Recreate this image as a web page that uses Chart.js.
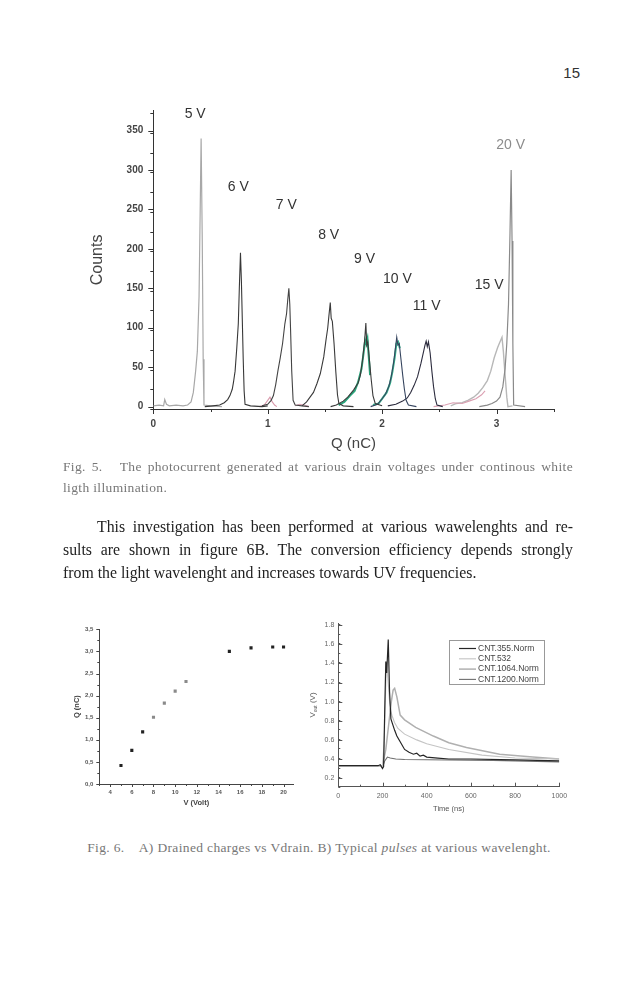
<!DOCTYPE html>
<html>
<head>
<meta charset="utf-8">
<script src="https://cdn.jsdelivr.net/npm/chart.js@4.4.1/dist/chart.umd.min.js"></script>
<style>
  body { margin: 0; background: #fff; width: 635px; height: 1000px; position: relative; overflow: hidden; }
  .abs { position: absolute; }
  #pageno { right: 55px; top: 64px; font: 15px "Liberation Sans", Arial, sans-serif; color: #333; }
  .cap { font-family: "Liberation Serif", "Times New Roman", serif; font-size: 13.5px; letter-spacing: 0.35px; line-height: 21px; color: #777; }
  .j { text-align: justify; text-align-last: justify; white-space: nowrap; }
  #cap5 { left: 63px; top: 456px; width: 510px; }
  #para { left: 63px; top: 515px; width: 510px; font-family: "Liberation Serif", serif; font-size: 15.8px; line-height: 23px; color: #222; }
  #para .j { white-space: normal; }
  #cap6 { left: 60px; width: 518px; top: 837px; text-align: center; }
</style>
</head>
<body>
<div class="abs" id="pageno">15</div>

<div class="abs" style="left:60px;top:90px"><canvas id="hist" width="510" height="370"></canvas></div>

<div class="abs cap" id="cap5">
  <div class="j">Fig. 5.&nbsp;&nbsp; The photocurrent generated at various drain voltages under continous white</div>
  <div>ligth illumination.</div>
</div>

<div class="abs" id="para">
  <div class="j" style="padding-left:34px">This investigation has been performed at various wawelenghts and re-</div>
  <div class="j">sults are shown in figure 6B. The conversion efficiency depends strongly</div>
  <div>from the light wavelenght and increases towards UV frequencies.</div>
</div>

<div class="abs" style="left:70px;top:615px"><canvas id="drain" width="235" height="200"></canvas></div>
<div class="abs" style="left:305px;top:615px"><canvas id="pulse" width="270" height="200"></canvas></div>

<div class="abs cap" id="cap6">Fig. 6.&nbsp;&nbsp;&nbsp; A) Drained charges vs Vdrain. B) Typical <i>pulses</i> at various wavelenght.</div>

<script>
// --- Fig. 5: charge histograms, [Q (nC), counts] ---
const v5 = [[0,1],[0.05,2],[0.09,1],[0.1,9],[0.115,3],[0.14,1],[0.2,2],[0.26,1],[0.3,2],[0.33,6],[0.35,18],[0.37,45],[0.385,70],[0.4,140],[0.41,250],[0.418,340],[0.428,210],[0.436,60],[0.443,2],[0.5,1],[0.6,0]];
const v6 = [[0.45,0],[0.52,1],[0.58,2],[0.62,5],[0.65,9],[0.67,14],[0.69,22],[0.7,30],[0.715,45],[0.73,75],[0.743,105],[0.752,150],[0.762,195],[0.77,160],[0.778,110],[0.786,60],[0.794,20],[0.802,3],[0.85,1],[0.95,0],[1.0,1]];
const v7 = [[0.95,1],[1.0,3],[1.03,8],[1.05,14],[1.07,28],[1.09,46],[1.11,62],[1.13,80],[1.15,105],[1.165,118],[1.175,135],[1.185,150],[1.193,130],[1.2,97],[1.21,45],[1.222,8],[1.24,2],[1.3,1],[1.36,0]];
const v8 = [[1.3,1],[1.34,6],[1.37,12],[1.4,18],[1.43,29],[1.46,42],[1.49,63],[1.51,85],[1.525,100],[1.535,115],[1.547,132],[1.555,112],[1.565,108],[1.58,80],[1.595,45],[1.61,15],[1.622,4],[1.66,1],[1.75,0]];
const v9 = [[1.55,0],[1.6,2],[1.66,7],[1.7,12],[1.75,21],[1.79,30],[1.81,40],[1.83,60],[1.848,85],[1.858,106],[1.866,78],[1.875,82],[1.89,58],[1.905,34],[1.92,14],[1.94,4],[2.0,1]];
const g9 = [[1.62,2],[1.67,6],[1.72,14],[1.76,20],[1.79,31],[1.82,48],[1.84,70],[1.852,84],[1.862,80],[1.872,86],[1.882,66],[1.895,40]];
const v10 = [[1.9,0],[1.96,3],[2.0,10],[2.03,16],[2.06,26],[2.08,38],[2.1,55],[2.115,72],[2.128,88],[2.138,78],[2.15,80],[2.165,60],[2.18,40],[2.195,22],[2.21,8],[2.23,2],[2.3,0]];
const g10 = [[1.92,2],[1.97,4],[2.01,12],[2.04,18],[2.07,30],[2.09,44],[2.11,62],[2.125,80],[2.14,82],[2.155,74]];
const v11 = [[2.05,1],[2.12,3],[2.18,7],[2.22,11],[2.25,18],[2.28,27],[2.31,38],[2.34,55],[2.36,68],[2.375,78],[2.385,83],[2.395,76],[2.405,82],[2.42,68],[2.435,45],[2.45,25],[2.465,10],[2.48,2],[2.53,0]];
const v15 = [[2.6,1],[2.65,4],[2.7,5],[2.75,8],[2.8,12],[2.84,17],[2.88,24],[2.92,33],[2.95,45],[2.98,62],[3.01,75],[3.03,82],[3.048,88],[3.06,70],[3.075,40],[3.09,12],[3.1,0],[3.14,1]];
const v20 = [[2.85,0],[2.92,2],[2.96,4],[3.0,7],[3.03,12],[3.055,25],[3.075,48],[3.09,80],[3.105,130],[3.118,220],[3.128,300],[3.136,210],[3.143,80],[3.15,2],[3.25,0]];
const pinkLow = [[0.93,0],[0.97,2],[1.0,8],[1.02,12],[1.04,6],[1.06,2],[1.08,0]];
const pinkMid = [[1.24,1],[1.28,3],[1.32,2],[1.36,0]];
const pinkHigh = [[2.45,0],[2.55,2],[2.62,5],[2.7,4],[2.76,7],[2.82,10],[2.87,15],[2.9,20]];
const peakNames = ['5 V','6 V','7 V','8 V','9 V','10 V','11 V','15 V','20 V'];
const countTicks = [0,50,100,150,200,250,300,350];
const qTicks = [0,1,2,3];

// --- Fig. 6A: drained charge vs drain voltage ---
const vDrain = [5,6,7,8,9,10,11,15,17,19,20];
const qDrained = [0.42,0.76,1.18,1.51,1.83,2.10,2.32,3.00,3.08,3.10,3.10];
const drainXTicks = [4,6,8,10,12,14,16,18,20];
const drainYTicks = [0,0.5,1,1.5,2,2.5,3,3.5];

// --- Fig. 6B: pulses, [time (ns), Vout (V)] ---
const p355 = [[0,0.33],[100,0.33],[180,0.33],[190,0.34],[200,0.30],[205,0.32],[210,0.9],[215,1.42],[219,1.3],[226,1.65],[232,1.1],[238,0.82],[245,0.77],[255,0.7],[265,0.64],[280,0.58],[300,0.5],[320,0.47],[340,0.45],[355,0.46],[370,0.43],[385,0.44],[400,0.42],[450,0.41],[500,0.40],[600,0.40],[800,0.39],[1000,0.38]];
const p532 = [[0,0.33],[190,0.33],[200,0.32],[208,0.6],[214,1.1],[218,1.42],[224,1.25],[232,1.0],[242,0.86],[255,0.78],[270,0.72],[300,0.66],[355,0.6],[400,0.56],[500,0.5],[650,0.44],[800,0.41],[1000,0.40]];
const p1064 = [[0,0.33],[200,0.33],[215,0.5],[230,0.8],[240,1.0],[248,1.12],[255,1.14],[265,1.05],[280,0.86],[300,0.81],[350,0.73],[430,0.64],[500,0.57],[580,0.52],[730,0.45],[880,0.42],[1000,0.40]];
const p1200 = [[0,0.33],[190,0.33],[200,0.31],[210,0.38],[222,0.42],[235,0.41],[260,0.40],[300,0.395],[500,0.39],[700,0.385],[1000,0.37]];
const pulseNames = ['CNT.355.Norm','CNT.532','CNT.1064.Norm','CNT.1200.Norm'];
const timeTicks = [0,200,400,600,800,1000];
const voutTicks = [0.2,0.4,0.6,0.8,1.0,1.2,1.4,1.6,1.8];

const pts = arr => arr.map(([x, y]) => ({ x, y }));
const fixTicks = list => scale => { scale.ticks = list.map(v => ({ value: v })); };
const fixSize = (w, h) => scale => { if (w != null) scale.width = w; if (h != null) scale.height = h; };
const noGrid = { display: false, drawTicks: false };

// major + minor tick marks drawn on the axis lines
const tickMarks = {
  id: 'tickMarks',
  afterDraw(chart, args, o) {
    const { ctx, chartArea: a, scales: { x, y } } = chart;
    const s = o.dir === 'in' ? -1 : 1;
    ctx.save();
    ctx.strokeStyle = o.color;
    ctx.lineWidth = 1;
    ctx.beginPath();
    const markX = (v, len) => { const p = Math.round(x.getPixelForValue(v)) + 0.5; ctx.moveTo(p, a.bottom); ctx.lineTo(p, a.bottom + s * len); };
    const markY = (v, len) => { const p = Math.round(y.getPixelForValue(v)) + 0.5; ctx.moveTo(a.left, p); ctx.lineTo(a.left - s * len, p); };
    x.ticks.forEach(t => markX(t.value, o.major));
    y.ticks.forEach(t => markY(t.value, o.major));
    for (let v = x.min; v <= x.max + 1e-9; v += o.xStep) markX(v, o.minor);
    for (let v = y.min; v <= y.max + 1e-9; v += o.yStep) markY(v, o.minor);
    ctx.stroke();
    ctx.restore();
  }
};

// voltage labels above each histogram peak
const peakLabels = {
  id: 'peakLabels',
  afterDatasetsDraw(chart, args, o) {
    const { ctx, scales: { x, y } } = chart;
    ctx.save();
    ctx.font = o.font;
    ctx.textAlign = 'center';
    ctx.textBaseline = 'middle';
    o.names.forEach((n, i) => {
      ctx.fillStyle = o.colors[i] || o.color;
      ctx.fillText(n, x.getPixelForValue(o.at[i][0]), y.getPixelForValue(o.at[i][1]));
    });
    ctx.restore();
  }
};

// boxed legend inside the pulse plot + Vout axis title with subscript
const pulseLegend = {
  id: 'pulseLegend',
  afterDraw(chart, args, o) {
    const { ctx, chartArea: a } = chart;
    const bx = a.left + o.dx, by = a.top + o.dy;
    ctx.save();
    ctx.strokeStyle = '#999';
    ctx.lineWidth = 1;
    ctx.strokeRect(bx + 0.5, by + 0.5, o.w, o.h);
    ctx.font = o.font;
    ctx.textBaseline = 'middle';
    chart.data.datasets.forEach((ds, i) => {
      const ly = by + o.first + i * o.gap;
      ctx.strokeStyle = ds.borderColor;
      ctx.lineWidth = ds.borderWidth;
      ctx.beginPath(); ctx.moveTo(bx + 10, ly); ctx.lineTo(bx + 27, ly); ctx.stroke();
      ctx.fillStyle = '#444';
      ctx.fillText(ds.label, bx + 29, ly);
    });
    // y title: V_out (V)
    const big = '8px "Liberation Sans", Arial, sans-serif', small = '5px "Liberation Sans", Arial, sans-serif';
    ctx.translate(o.titleX, (a.top + a.bottom) / 2);
    ctx.rotate(-Math.PI / 2);
    ctx.fillStyle = '#555';
    ctx.textBaseline = 'alphabetic';
    ctx.font = big; const w1 = ctx.measureText('V').width, w3 = ctx.measureText(' (V)').width;
    ctx.font = small; const w2 = ctx.measureText('out').width;
    let sx = -(w1 + w2 + w3) / 2;
    ctx.font = big; ctx.fillText('V', sx, 3); sx += w1;
    ctx.font = small; ctx.fillText('out', sx, 5); sx += w2;
    ctx.font = big; ctx.fillText(' (V)', sx, 3);
    ctx.restore();
  }
};

const line = (label, data, color, width) => ({
  label, data: pts(data), borderColor: color, borderWidth: width || 1.1,
  pointRadius: 0, tension: 0, fill: false
});

const sans = 'Liberation Sans';

new Chart(document.getElementById('hist'), {
  type: 'line',
  data: {
    datasets: [
      line('6 V', v6, '#383838'),
      line('7 V', v7, '#444'),
      line('8 V', v8, '#3a3a3a'),
      line('9 V', v9, '#3a3a3a'),
      line('9 V g', g9, '#2aa57c', 2),
      line('10 V', v10, '#36455f'),
      line('10 V g', g10, '#35b28c', 2),
      line('11 V', v11, '#2c2c3e'),
      line('20 V', v20, '#8a8a8a', 1.2),
      line('pink a', pinkLow, '#d99aac'),
      line('pink b', pinkMid, '#d9a3b4'),
      line('pink c', pinkHigh, '#dba0b2'),
      line('15 V', v15, '#b8b8b8', 1.4),
      line('5 V', v5, '#a8a8a8', 1.2)
    ]
  },
  options: {
    responsive: false,
    animation: false,
    layout: { padding: { left: 0, top: 20.8, right: 16.3, bottom: 0 } },
    plugins: {
      legend: { display: false },
      tooltip: { enabled: false },
      tickMarks: { dir: 'out', major: 5, minor: 3, xStep: 0.5, yStep: 25, color: '#333' },
      peakLabels: {
        names: peakNames,
        at: [[0.366, 371], [0.743, 278], [1.163, 256], [1.533, 217], [1.847, 187], [2.133, 162], [2.39, 127], [2.935, 154], [3.124, 332]],
        font: `14px "${sans}", Arial, sans-serif`, color: '#333',
        colors: [, , , , , , , , '#8c8c8c']
      }
    },
    scales: {
      x: {
        type: 'linear', min: 0, max: 3.5,
        afterBuildTicks: fixTicks(qTicks), afterFit: fixSize(null, 51),
        grid: noGrid,
        border: { display: true, color: '#333', width: 1 },
        ticks: { padding: 9, color: '#444', font: { family: sans, size: 10, weight: 'bold' } },
        title: { display: true, text: 'Q (nC)', color: '#444', font: { family: sans, size: 15 }, padding: { top: 0, bottom: 7 } }
      },
      y: {
        type: 'linear', min: -3, max: 375,
        afterBuildTicks: fixTicks(countTicks), afterFit: fixSize(93.3, null),
        grid: noGrid,
        border: { display: true, color: '#333', width: 1 },
        ticks: { padding: 10, color: '#444', font: { family: sans, size: 10, weight: 'bold' } },
        title: { display: true, text: 'Counts', color: '#444', font: { family: sans, size: 16 }, padding: { top: 28, bottom: 0 } }
      }
    }
  },
  plugins: [tickMarks, peakLabels]
});

new Chart(document.getElementById('drain'), {
  type: 'scatter',
  data: {
    datasets: [{
      data: vDrain.map((v, i) => ({ x: v, y: qDrained[i] })),
      pointStyle: 'rect', pointRadius: 2.2, borderWidth: 0,
      backgroundColor: c => (c.raw && c.raw.x >= 8 && c.raw.x <= 11) ? '#8a8a8a' : '#222'
    }]
  },
  options: {
    responsive: false,
    animation: false,
    layout: { padding: { left: 0, top: 14.3, right: 11.7, bottom: 0 } },
    plugins: {
      legend: { display: false },
      tooltip: { enabled: false },
      tickMarks: { dir: 'out', major: 3, minor: 2, xStep: 1, yStep: 0.25, color: '#444' }
    },
    scales: {
      x: {
        type: 'linear', min: 3, max: 20.9,
        afterBuildTicks: fixTicks(drainXTicks), afterFit: fixSize(null, 31),
        grid: noGrid,
        border: { display: true, color: '#444', width: 1 },
        ticks: { padding: 5, color: '#555', font: { family: sans, size: 6, weight: 'bold' } },
        title: { display: true, text: 'V (Volt)', color: '#444', font: { family: sans, size: 7.5, weight: 'bold' }, padding: { top: 0, bottom: 8 } }
      },
      y: {
        type: 'linear', min: 0, max: 3.5,
        afterBuildTicks: fixTicks(drainYTicks), afterFit: fixSize(29.3, null),
        grid: noGrid,
        border: { display: true, color: '#444', width: 1 },
        ticks: { padding: 6, color: '#555', font: { family: sans, size: 6, weight: 'bold' },
          callback: v => v.toFixed(1).replace('.', ',') },
        title: { display: true, text: 'Q (nC)', color: '#444', font: { family: sans, size: 7.5, weight: 'bold' }, padding: { top: 2.5, bottom: 0 } }
      }
    }
  },
  plugins: [tickMarks]
});

new Chart(document.getElementById('pulse'), {
  type: 'line',
  data: {
    datasets: [
      line(pulseNames[0], p355, '#262626', 1.2),
      line(pulseNames[1], p532, '#c4c4c4', 1.1),
      line(pulseNames[2], p1064, '#b0b0b0', 1.5),
      line(pulseNames[3], p1200, '#6e6e6e', 1.1)
    ]
  },
  options: {
    responsive: false,
    animation: false,
    layout: { padding: { left: 0, top: 8.3, right: 15.7, bottom: 0 } },
    plugins: {
      legend: { display: false },
      tooltip: { enabled: false },
      tickMarks: { dir: 'in', major: 4, minor: 2, xStep: 100, yStep: 0.1, color: '#555' },
      pulseLegend: { dx: 110.7, dy: 16.7, w: 95, h: 44, first: 8.5, gap: 10.3, titleX: 7,
        font: `8.5px "${sans}", Arial, sans-serif` }
    },
    scales: {
      x: {
        type: 'linear', min: 0, max: 1000,
        afterBuildTicks: fixTicks(timeTicks), afterFit: fixSize(null, 28.3),
        grid: noGrid,
        border: { display: true, color: '#555', width: 1 },
        ticks: { padding: 5, color: '#666', font: { family: sans, size: 7 }, callback: v => String(v) },
        title: { display: true, text: 'Time (ns)', color: '#555', font: { family: sans, size: 7.5 }, padding: { top: 0, bottom: 2 } }
      },
      y: {
        type: 'linear', min: 0.11, max: 1.82,
        afterBuildTicks: fixTicks(voutTicks), afterFit: fixSize(33.3, null),
        grid: noGrid,
        border: { display: true, color: '#555', width: 1 },
        ticks: { padding: 4, color: '#666', font: { family: sans, size: 7 }, callback: v => v.toFixed(1) },
        title: { display: false }
      }
    }
  },
  plugins: [tickMarks, pulseLegend]
});
</script>
</body>
</html>
